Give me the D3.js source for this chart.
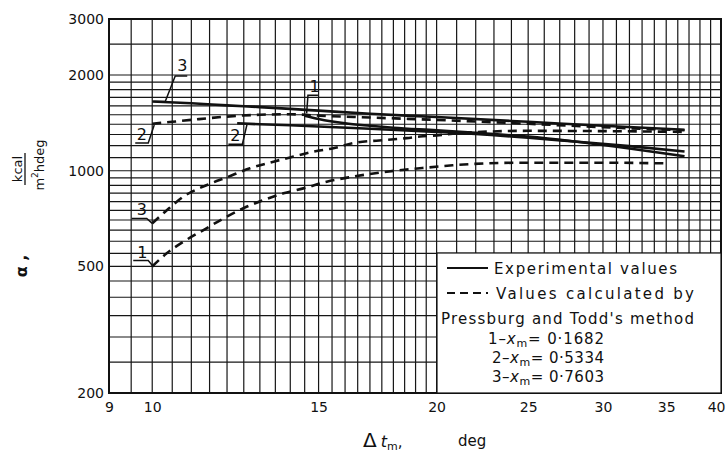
<!DOCTYPE html>
<html><head><meta charset="utf-8">
<script src="https://cdn.jsdelivr.net/npm/d3@7"></script>
<style>body{margin:0;background:#fff}svg{display:block;font-family:"DejaVu Sans",sans-serif}</style>
</head><body><svg id="c" width="726" height="453"></svg>
<script>
// ---- data ----
const xTickValues = [9, 10, 15, 20, 25, 30, 35, 40];
const yTickValues = [200, 500, 1000, 2000, 3000];
const xGridValues = [...d3.range(9, 20, 0.5), ...d3.range(20, 41, 1)];
const yGridValues = [...d3.range(200, 1000, 50), ...d3.range(1000, 2000, 100), 2000, 2500, 3000];

// Experimental (solid)
const exp1X = [14.5, 15, 16, 17, 18, 20, 22, 25, 28, 32, 36.6];
const exp1Y = [1490, 1455, 1410, 1385, 1365, 1340, 1315, 1280, 1235, 1175, 1110];
const exp2X = [12.3, 13, 14, 15, 17, 20, 22, 25, 28, 32, 36.6];
const exp2Y = [1410, 1400, 1390, 1378, 1355, 1325, 1305, 1270, 1235, 1195, 1150];
const exp3X = [10, 11, 12, 13, 14, 15, 17, 20, 25, 30, 36.6];
const exp3Y = [1650, 1630, 1605, 1585, 1565, 1545, 1510, 1475, 1425, 1385, 1345];
// Calculated (dashed)
const calc1X = [10, 10.36, 10.79, 11.33, 11.9, 12.49, 13.12, 13.77, 14.45, 15.3, 16.32, 17.71, 19.2, 20.8, 22.6, 25, 30, 34.8];
const calc1Y = [500, 550, 598, 651, 708, 762, 809, 849, 880, 924, 958, 993, 1018, 1040, 1055, 1060, 1060, 1055];
const calc2X = [10, 10.5, 11, 12, 13, 14, 15, 17, 20, 25, 30, 36.6];
const calc2Y = [1405, 1425, 1445, 1480, 1500, 1505, 1490, 1470, 1445, 1405, 1370, 1340];
const calc3X = [10, 10.32, 10.79, 11.43, 12.0, 12.69, 13.44, 14.11, 14.81, 15.55, 16.32, 17.71, 18.59, 19.2, 20, 21, 22, 25, 30, 36.6];
const calc3Y = [683, 743, 829, 902, 954, 1018, 1068, 1108, 1148, 1177, 1221, 1250, 1266, 1281, 1292, 1310, 1322, 1335, 1332, 1325];

const curveLabels = ["3", "2", "2", "1", "3", "1"];
const curveLabelAtX = [10, 10, 12.6, 14.57, 10, 10];
const curveLabelAtY = [1650, 1405, 1400, 1515, 683, 500];

const legendLines = ["Experimental  values", "Values calculated by", "Pressburg and Todd's method"];
const legendNums = ["1", "2", "3"];
const legendXm = ["0·1682", "0·5334", "0·7603"];

// ---- drawing ----
const svg = d3.select("#c");
const x = d3.scaleLog().domain([9, 40]).range([109, 721]);
const y = d3.scaleLog().domain([200, 3000]).range([393, 19]);

const grid = svg.append("g").attr("stroke", "#161616").attr("stroke-width", 1.2);
grid.selectAll("line.v").data(xGridValues).join("line")
  .attr("x1", d => x(d)).attr("x2", d => x(d)).attr("y1", y(3000)).attr("y2", y(200));
grid.selectAll("line.h").data(yGridValues).join("line")
  .attr("y1", d => y(d)).attr("y2", d => y(d)).attr("x1", x(9)).attr("x2", x(40));

svg.append("rect").attr("x", x(9)).attr("y", y(3000))
  .attr("width", x(40) - x(9)).attr("height", y(200) - y(3000))
  .attr("fill", "none").attr("stroke", "#111").attr("stroke-width", 2);

// axes (labels only, via d3 axis)
const fs = "14px";
const yAxis = svg.append("g").attr("transform", `translate(${x(9)},0)`)
  .call(d3.axisLeft(y).tickValues(yTickValues).tickFormat(d3.format("d")).tickSize(0).tickPadding(5));
yAxis.select(".domain").remove();
yAxis.selectAll("text").attr("font-size", fs).attr("font-family", "DejaVu Sans").attr("fill", "#111");

const xAxis = svg.append("g").attr("transform", `translate(0,${y(200)})`)
  .call(d3.axisBottom(x).tickValues(xTickValues).tickFormat(d3.format("d")).tickSize(0).tickPadding(9));
xAxis.select(".domain").remove();
xAxis.selectAll("text").attr("font-size", fs).attr("font-family", "DejaVu Sans").attr("fill", "#111")
  .filter(d => d === 40).attr("text-anchor", "end").attr("dx", 4);

// curves
const line = d3.line().x(d => x(d[0])).y(d => y(d[1])).curve(d3.curveMonotoneX);
const zip = (a, b) => a.map((v, i) => [v, b[i]]);
const solids = [zip(exp1X, exp1Y), zip(exp2X, exp2Y), zip(exp3X, exp3Y)];
const dashes = [zip(calc1X, calc1Y), zip(calc2X, calc2Y), zip(calc3X, calc3Y)];
svg.append("g").selectAll("path").data(solids).join("path")
  .attr("d", line).attr("fill", "none").attr("stroke", "#111").attr("stroke-width", 2.6);
svg.append("g").selectAll("path").data(dashes).join("path")
  .attr("d", line).attr("fill", "none").attr("stroke", "#111").attr("stroke-width", 2.6)
  .attr("stroke-dasharray", "9,6");

// curve labels with leaders (pixel offsets from anchor)
const leaderOffsets = [
  [[2, 0], [13, 0], [23, -25.6], [35, -25.6]],
  [[2, 1.3], [-4, 19.3], [-17, 19.3]],
  [[0, 0], [-4.7, 20], [-18.7, 20]],
  [[0, 0], [1.3, -18], [11.3, -18]],
  [[0, 0], [-5.5, -5], [-20.5, -5]],
  [[1, 0], [-4, -6], [-19, -6]]
];
const textOffsets = [[30, -31], [-10.5, 16], [-11.7, 17], [8, -21], [-10.5, -8.5], [-10, -8]];
const ann = svg.append("g");
curveLabels.forEach((t, i) => {
  const ax = x(curveLabelAtX[i]), ay = y(curveLabelAtY[i]);
  ann.append("path")
    .attr("d", d3.line()(leaderOffsets[i].map(p => [ax + p[0], ay + p[1]])))
    .attr("fill", "none").attr("stroke", "#111").attr("stroke-width", 1.5);
  ann.append("text").attr("x", ax + textOffsets[i][0]).attr("y", ay + textOffsets[i][1])
    .attr("text-anchor", "middle").attr("font-size", "16px").attr("fill", "#111").text(t);
});

// legend
const lg = svg.append("g");
lg.append("rect").attr("x", 437).attr("y", 253).attr("width", x(40) - 437).attr("height", y(200) - 253)
  .attr("fill", "#fff").attr("stroke", "#111").attr("stroke-width", 1.2);
lg.append("line").attr("x1", 447).attr("x2", 488).attr("y1", 268).attr("y2", 268)
  .attr("stroke", "#111").attr("stroke-width", 2);
lg.append("line").attr("x1", 447).attr("x2", 488).attr("y1", 293).attr("y2", 293)
  .attr("stroke", "#111").attr("stroke-width", 2).attr("stroke-dasharray", "8,5");
const lgX = [494, 496, 441], lgY = [274, 299, 324], lgW = [183, 198, 253];
legendLines.forEach((t, i) => {
  lg.append("text").attr("x", lgX[i]).attr("y", lgY[i]).attr("font-size", "15px")
    .attr("textLength", lgW[i]).attr("lengthAdjust", "spacing").attr("fill", "#111").text(t);
});
const numX = [488, 492, 492], numY = [344, 363, 382];
legendNums.forEach((n, i) => {
  const t = lg.append("text").attr("x", numX[i]).attr("y", numY[i]).attr("font-size", "15px")
    .attr("fill", "#111").attr("textLength", 604 - numX[i]).attr("lengthAdjust", "spacing");
  t.append("tspan").text(n + "–");
  t.append("tspan").attr("font-style", "italic").text("x");
  t.append("tspan").attr("font-size", "11px").attr("dy", 3).text("m");
  t.append("tspan").attr("dy", -3).text("= " + legendXm[i]);
});

// axis titles
const xt = svg.append("text").attr("y", 447).attr("fill", "#111");
xt.append("tspan").attr("x", 363).attr("font-size", "20px").text("Δ");
xt.append("tspan").attr("dx", 4).attr("font-size", "16px").attr("font-style", "italic").text("t");
xt.append("tspan").attr("font-size", "11px").attr("dy", 3).text("m");
xt.append("tspan").attr("font-size", "15px").attr("dy", -3).text(",");
svg.append("text").attr("x", 458).attr("y", 446).attr("font-size", "15px").attr("fill", "#111").text("deg");

// y title: alpha and fraction (rotated)
svg.append("text").attr("transform", "translate(27,266) rotate(-90)").attr("text-anchor", "middle")
  .attr("font-size", "16px").attr("font-weight", "bold").attr("fill", "#111").text("α ,");
svg.append("text").attr("transform", "translate(22,169) rotate(-90)").attr("text-anchor", "middle")
  .attr("font-size", "13px").attr("fill", "#111").text("kcal");
svg.append("line").attr("x1", 25).attr("x2", 25).attr("y1", 153).attr("y2", 185)
  .attr("stroke", "#111").attr("stroke-width", 1.3);
const den = svg.append("text").attr("transform", "translate(44,165) rotate(-90)").attr("text-anchor", "middle")
  .attr("font-size", "13px").attr("fill", "#111");
den.append("tspan").text("m");
den.append("tspan").attr("font-size", "9px").attr("dy", -6).text("2");
den.append("tspan").attr("dy", 6).text("hdeg");
</script></body></html>
